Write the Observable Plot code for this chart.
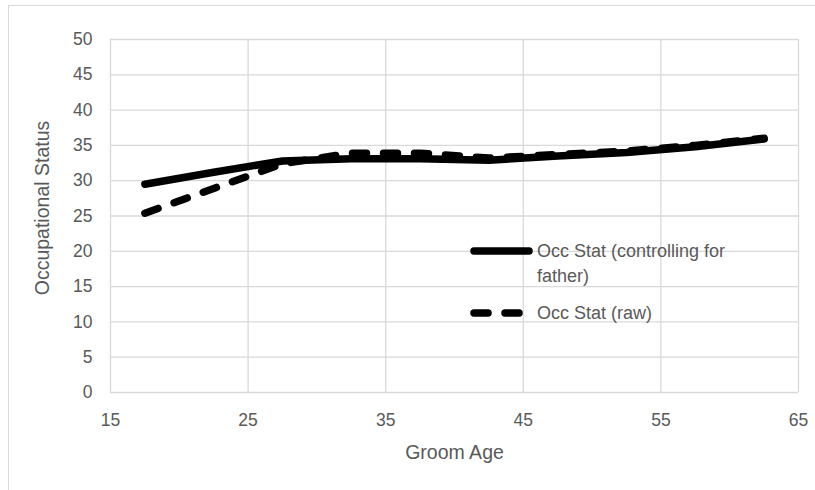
<!DOCTYPE html>
<html>
<head>
<meta charset="utf-8">
<script src="https://cdn.jsdelivr.net/npm/d3@7"></script>
<script src="https://cdn.jsdelivr.net/npm/@observablehq/plot@0.6"></script>
<style>
  html, body { margin: 0; padding: 0; background: #fff; overflow: hidden; }
  #wrap { position: relative; width: 815px; height: 490px; }
  #edge { position: absolute; left: 8px; top: 5px; width: 900px; height: 600px;
          border-left: 1.5px solid #d9d9d9; border-top: 1.5px solid #d9d9d9; }
  #chart { position: absolute; left: 0; top: 0; }
  #key { position: absolute; left: 0; top: 0; pointer-events: none; }
</style>
</head>
<body>
<div id="wrap">
  <div id="edge"></div>
  <div id="chart"></div>
  <svg id="key" width="815" height="490"></svg>
</div>
<script>
// Groom age (midpoints of five-year bands)
const ages = [17.5, 22.5, 27.5, 32.5, 37.5, 42.5, 47.5, 52.5, 57.5, 62.5];
// Mean occupational status, controlling for father's status
const occControlled = [29.5, 31.2, 32.8, 33.1, 33.1, 32.9, 33.5, 34.0, 34.8, 35.9];
// Mean occupational status, raw
const occRaw = [25.4, 28.9, 32.4, 33.9, 33.9, 33.2, 33.7, 34.2, 35.0, 36.0];

const seriesNames = ["Occ Stat (controlling for father)", "Occ Stat (raw)"];
const xTicks = [15, 25, 35, 45, 55, 65];
const yTicks = [0, 5, 10, 15, 20, 25, 30, 35, 40, 45, 50];
const xTitle = "Groom Age";
const yTitle = "Occupational Status";

const rows = [
  ...ages.map((a, i) => ({age: a, value: occControlled[i], series: seriesNames[0]})),
  ...ages.map((a, i) => ({age: a, value: occRaw[i], series: seriesNames[1]}))
];

const gridColor = "#d9d9d9";
const textColor = "#595959";
const font = "'Liberation Sans', Arial, sans-serif";

const chart = Plot.plot({
  width: 815,
  height: 490,
  marginLeft: 110,
  marginRight: 17,
  marginTop: 39,
  marginBottom: 98,
  style: {fontFamily: font, fontSize: "17.5px", color: textColor, background: "transparent"},
  x: {domain: [15, 65]},
  y: {domain: [0, 50]},
  marks: [
    Plot.gridX(xTicks, {stroke: gridColor, strokeOpacity: 1, strokeWidth: 1.3}),
    Plot.gridY(yTicks, {stroke: gridColor, strokeOpacity: 1, strokeWidth: 1.3}),
    Plot.axisX(xTicks, {tickSize: 0, tickPadding: 21, label: null, fill: textColor}),
    Plot.axisY(yTicks, {tickSize: 0, tickPadding: 18, label: null, fill: textColor}),
    Plot.text([xTitle], {frameAnchor: "bottom", dy: 60, lineAnchor: "middle",
      fontSize: 19.5, fill: textColor}),
    Plot.text([yTitle], {frameAnchor: "left", dx: -68, dy: -8, rotate: -90,
      textAnchor: "middle", lineAnchor: "middle", fontSize: 19.5, fill: textColor}),
    Plot.lineY(rows.filter(d => d.series === seriesNames[1]), {
      x: "age", y: "value", stroke: "#000", strokeWidth: 7.5,
      strokeDasharray: "14,17", strokeLinecap: "round", strokeLinejoin: "round"
    }),
    Plot.lineY(rows.filter(d => d.series === seriesNames[0]), {
      x: "age", y: "value", stroke: "#000", strokeWidth: 7.5,
      strokeLinecap: "round", strokeLinejoin: "round"
    })
  ]
});
document.getElementById("chart").append(chart);

// Legend inside the plot area
const key = d3.select("#key");
const legendItems = [
  {lines: ["Occ Stat (controlling for", "father)"], dash: null, y: 251},
  {lines: ["Occ Stat (raw)"], dash: "14,17", y: 313}
];
legendItems.forEach(item => {
  key.append("line")
    .attr("x1", 474).attr("x2", item.dash ? 527 : 529)
    .attr("y1", item.y).attr("y2", item.y)
    .attr("stroke", "#000").attr("stroke-width", 7.5)
    .attr("stroke-linecap", "round")
    .attr("stroke-dasharray", item.dash);
  item.lines.forEach((t, j) => {
    key.append("text")
      .attr("x", 537).attr("y", item.y + j * 24.5)
      .attr("dy", "0.35em")
      .attr("font-family", font).attr("font-size", 18)
      .attr("fill", textColor)
      .text(t);
  });
});
</script>
</body>
</html>
